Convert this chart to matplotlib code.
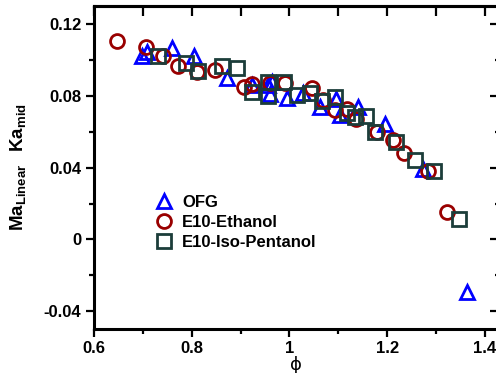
import matplotlib
matplotlib.use("Agg")
import matplotlib.pyplot as plt
from matplotlib.ticker import MultipleLocator, FixedLocator

plt.rcParams['font.family'] = ['Liberation Sans', 'DejaVu Sans']
plt.rcParams['font.weight'] = 'bold'
plt.rcParams['mathtext.fontset'] = 'custom'
plt.rcParams['mathtext.rm'] = 'Liberation Sans'
plt.rcParams['mathtext.bf'] = 'Liberation Sans:bold'

# OFG (triangles)
ofg_phi = [0.698, 0.708, 0.760, 0.805, 0.872, 0.923, 0.956, 0.960, 0.964, 0.995,
           1.028, 1.062, 1.095, 1.103, 1.140, 1.195, 1.273, 1.363]
ofg_val = [0.1023, 0.1046, 0.1068, 0.1023, 0.0900, 0.0861, 0.0861, 0.0811, 0.0878, 0.0789,
           0.0816, 0.0738, 0.0783, 0.0694, 0.0738, 0.0643, 0.0392, -0.0294]

# E10-Ethanol (circles)
eth_phi = [0.647, 0.706, 0.741, 0.772, 0.811, 0.848, 0.907, 0.923, 0.960, 0.991,
           1.046, 1.069, 1.093, 1.118, 1.136, 1.179, 1.212, 1.234, 1.283, 1.322]
eth_val = [0.1107, 0.1073, 0.1023, 0.0967, 0.0934, 0.0945, 0.0850, 0.0867, 0.0872, 0.0872,
           0.0844, 0.0777, 0.0722, 0.0727, 0.0671, 0.0599, 0.0554, 0.0482, 0.0381, 0.0152]

# E10-Iso-Pentanol (squares)
iso_phi = [0.731, 0.788, 0.813, 0.862, 0.893, 0.923, 0.956, 0.956, 0.989, 1.015,
           1.042, 1.066, 1.093, 1.118, 1.134, 1.157, 1.175, 1.218, 1.257, 1.296, 1.347]
iso_val = [0.1023, 0.0984, 0.0939, 0.0967, 0.0956, 0.0822, 0.0878, 0.0800, 0.0878, 0.0805,
           0.0817, 0.0772, 0.0794, 0.0705, 0.0683, 0.0688, 0.0599, 0.0543, 0.0443, 0.0381, 0.0113]

x_ticks = [0.6, 0.8, 1.0, 1.2, 1.4]
x_labels = ['0.6', '0.8', '1', '1.2', '1.4']
y_ticks = [-0.04, 0, 0.04, 0.08, 0.12]
y_labels = ['-0.04', '0', '0.04', '0.08', '0.12']

fig = plt.figure(figsize=(4.96, 3.73), dpi=100)
ax = fig.add_axes([0.1895, 0.118, 0.8185, 0.866])

ax.plot(ofg_phi, ofg_val, linestyle='none', marker='^', ms=10, mfc='none',
        mec='#0000ff', mew=2, label='OFG')
ax.plot(eth_phi, eth_val, linestyle='none', marker='o', ms=10, mfc='none',
        mec='#990000', mew=2, label='E10-Ethanol')
ax.plot(iso_phi, iso_val, linestyle='none', marker='s', ms=9.5, mfc='none',
        mec='#1c3d3a', mew=2, label='E10-Iso-Pentanol')

ax.set_xlim(0.6, 1.4307)
ax.set_ylim(-0.05, 0.1303)

ax.set_xticks(x_ticks)
ax.set_xticklabels(x_labels)
ax.set_yticks(y_ticks)
ax.set_yticklabels(y_labels)
ax.xaxis.set_minor_locator(MultipleLocator(0.1))
ax.yaxis.set_minor_locator(MultipleLocator(0.02))
ax.tick_params(which='major', direction='out', length=6, width=1.6, labelsize=12, pad=3)
ax.tick_params(which='minor', direction='out', length=3.5, width=1.6)

for s in ax.spines.values():
    s.set_linewidth(2.2)

# top and right ticks point inward
top = ax.secondary_xaxis('top')
top.xaxis.set_major_locator(FixedLocator([0.6, 0.7, 0.8, 0.9, 1.0, 1.1, 1.2, 1.3, 1.4]))
top.tick_params(direction='in', length=7, width=1.6, labeltop=False)
top.spines['top'].set_linewidth(2.2)

right = ax.secondary_yaxis('right')
right.yaxis.set_major_locator(FixedLocator(y_ticks))
right.yaxis.set_minor_locator(MultipleLocator(0.02))
right.tick_params(which='major', direction='in', length=7, width=1.6, labelright=False)
right.tick_params(which='minor', direction='in', length=3.5, width=1.6)
right.spines['right'].set_linewidth(2.2)

ax.set_ylabel(r'$\mathbf{Ma}_{\mathrm{Linear}}\ \ \mathbf{Ka}_{\mathrm{mid}}$', fontsize=13.5)
ax.yaxis.set_label_coords(-0.16, 0.5)
ax.set_xlabel('\u03d5', fontsize=13, fontweight='normal', family='DejaVu Sans')
ax.xaxis.set_label_coords(0.497, -0.085)

ax.legend(loc='upper left', bbox_to_anchor=(0.152, 0.415), frameon=False,
          fontsize=12, handlelength=1.0, handletextpad=0.6, labelspacing=0.3,
          borderpad=0, borderaxespad=0)

fig.savefig('out.png', dpi=100)
